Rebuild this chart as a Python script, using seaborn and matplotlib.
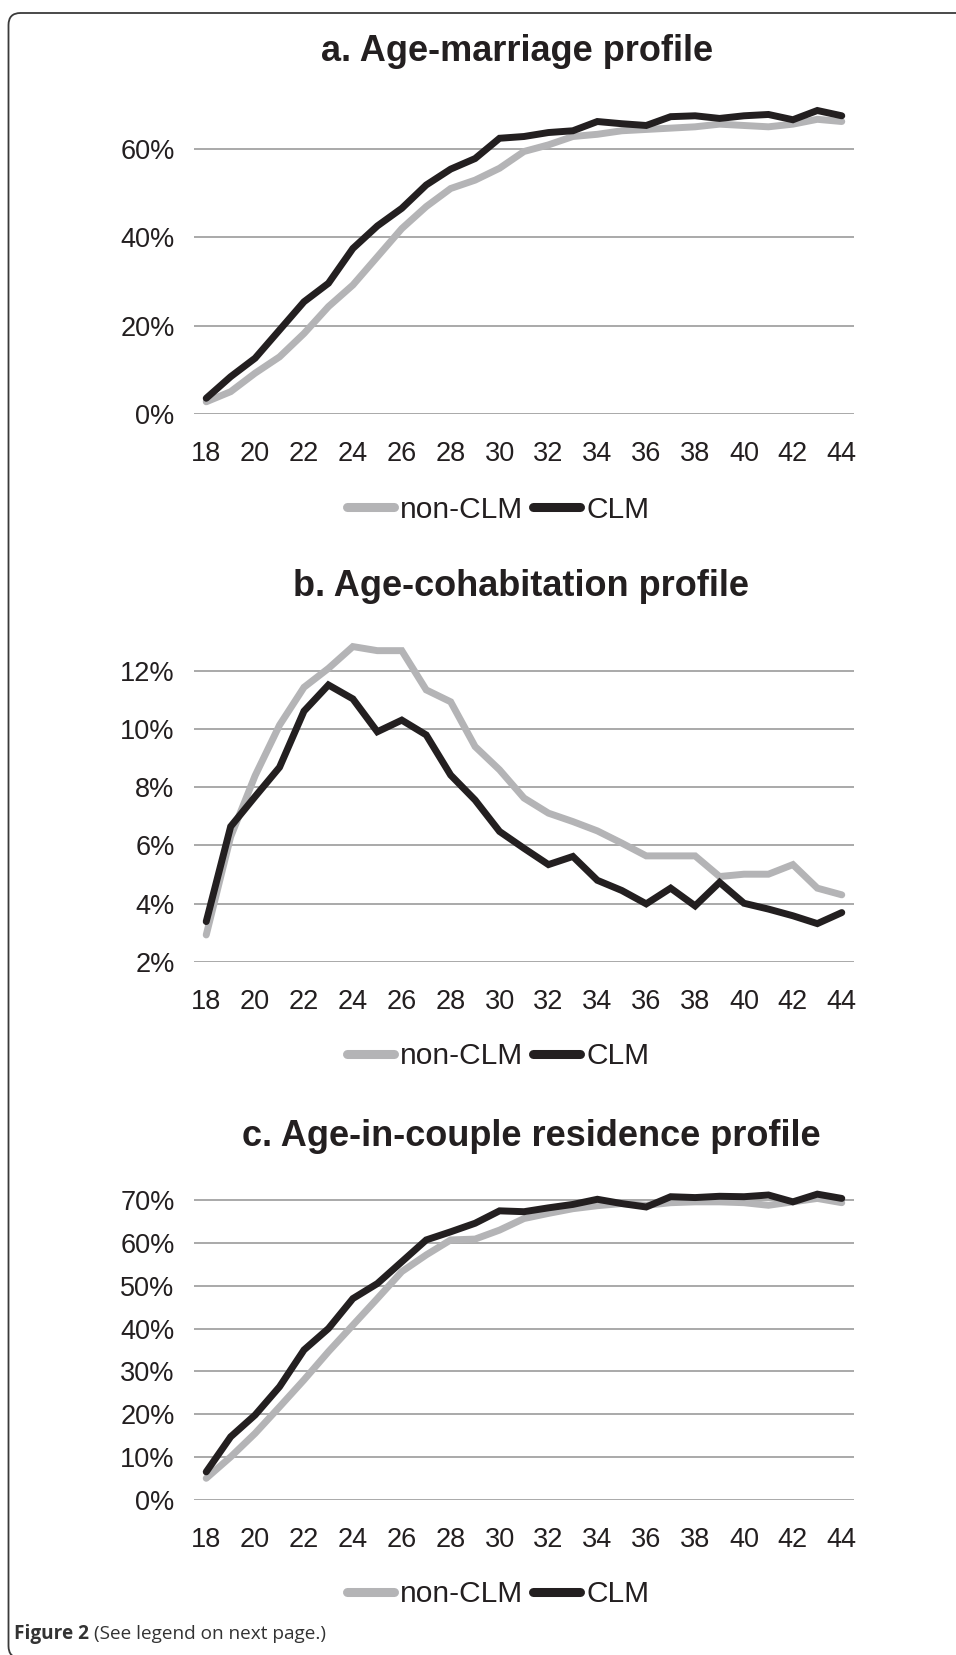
import matplotlib
matplotlib.use('Agg')
import matplotlib.pyplot as plt
import matplotlib.transforms as mtransforms
from matplotlib.patches import FancyBboxPatch
from matplotlib.ticker import FuncFormatter
import seaborn as sns
import pandas as pd

# ages on the x axis
ages = list(range(18, 45))
groups = ['non-CLM', 'CLM']

# a. age-marriage profile (%)
marriage_non_clm = [2.7, 5.0, 9.2, 12.9, 18.2, 24.3, 29.2, 35.6, 42.0, 47.0, 51.1, 53.0, 55.7, 59.5,
                    61.0, 62.9, 63.4, 64.2, 64.5, 64.8, 65.1, 65.7, 65.4, 65.1, 65.7, 66.8, 66.3]
marriage_clm = [3.5, 8.4, 12.6, 19.0, 25.4, 29.6, 37.5, 42.6, 46.6, 51.9, 55.5, 57.9, 62.5, 62.9,
                63.8, 64.2, 66.3, 65.8, 65.4, 67.4, 67.6, 67.0, 67.6, 67.9, 66.7, 68.8, 67.6]

# b. age-cohabitation profile (%)
cohab_non_clm = [2.92, 6.3, 8.4, 10.14, 11.44, 12.09, 12.84, 12.70, 12.70, 11.35, 10.94, 9.40, 8.60, 7.63,
                 7.11, 6.82, 6.50, 6.08, 5.64, 5.64, 5.64, 4.93, 5.01, 5.01, 5.34, 4.53, 4.30]
cohab_clm = [3.38, 6.65, 7.68, 8.69, 10.62, 11.52, 11.04, 9.91, 10.31, 9.80, 8.42, 7.56, 6.48, 5.90,
             5.34, 5.62, 4.80, 4.45, 3.99, 4.53, 3.92, 4.73, 4.01, 3.81, 3.58, 3.31, 3.69]

# c. age-in-couple residence profile (%)
couple_non_clm = [5.0, 10.0, 15.5, 21.7, 28.0, 34.6, 40.8, 47.0, 53.3, 57.2, 60.7, 60.9, 63.0, 65.7,
                  66.9, 68.0, 68.7, 69.2, 68.8, 69.4, 69.6, 69.6, 69.4, 68.8, 69.6, 70.4, 69.4]
couple_clm = [6.5, 14.7, 19.8, 26.4, 35.0, 40.0, 47.0, 50.5, 55.6, 60.7, 62.6, 64.6, 67.5, 67.3,
              68.2, 69.0, 70.2, 69.2, 68.4, 70.8, 70.6, 70.9, 70.8, 71.2, 69.6, 71.4, 70.4]

titles = ['a. Age-marriage profile', 'b. Age-cohabitation profile', 'c. Age-in-couple residence profile']
y_ticks = [[0, 20, 40, 60], [2, 4, 6, 8, 10, 12], [0, 10, 20, 30, 40, 50, 60, 70]]
x_ticks = list(range(18, 45, 2))

GRAY = '#b4b4b6'
BLACK = '#231f20'
GRID = '#a3a3a3'
TEXT = '#231f20'


def make_frame(non_clm, clm):
    return pd.DataFrame({
        'age': ages * 2,
        'value': non_clm + clm,
        'group': [groups[0]] * len(ages) + [groups[1]] * len(ages),
    })


def draw_panel(ax, df, ticks, ylim):
    sns.lineplot(data=df, x='age', y='value', hue='group', hue_order=groups,
                 palette={groups[0]: GRAY, groups[1]: BLACK}, linewidth=5,
                 legend=False, ax=ax)
    for line in ax.lines:
        line.set_solid_capstyle('round')
        line.set_solid_joinstyle('miter')
        line.set_clip_on(False)
    ax.set_xlim(17.5, 44.5)
    ax.set_ylim(*ylim)
    ax.set_xticks(x_ticks)
    ax.set_yticks(ticks)
    ax.yaxis.set_major_formatter(FuncFormatter(lambda v, p: f'{v:.0f}%'))
    ax.set_xlabel('')
    ax.set_ylabel('')
    ax.grid(axis='y', color=GRID, linewidth=1.3)
    ax.grid(axis='x', visible=False)
    ax.set_axisbelow(True)
    for spine in ax.spines.values():
        spine.set_visible(False)
    ax.tick_params(axis='x', length=0, pad=20, labelsize=19.5, labelcolor=TEXT)
    ax.tick_params(axis='y', length=0, pad=14, labelsize=19.5, labelcolor=TEXT)


def main():
    sns.set_theme(style='white')
    plt.rcParams['font.family'] = ['Liberation Sans', 'DejaVu Sans']

    fig = plt.figure(figsize=(9.56, 16.55), dpi=100)
    W, H = 956, 1655

    # axes boxes in pixels: left, bottom y (from top), width, height
    boxes = [(194, 413.7, 660, 317.3), (194, 961.7, 660, 334.3), (194, 1499.7, 660, 312.4)]
    ylims = [(0, 72), (2, 13.5), (0, 73)]
    title_pos = [(517, 51.5), (521, 587), (531, 1136.5)]
    legend_y = [509.7, 1056, 1594.4]
    data = [(marriage_non_clm, marriage_clm), (cohab_non_clm, cohab_clm), (couple_non_clm, couple_clm)]

    for i, (non_clm, clm) in enumerate(data):
        left, bottom, width, height = boxes[i]
        ax = fig.add_axes([left / W, 1 - bottom / H, width / W, height / H])
        draw_panel(ax, make_frame(non_clm, clm), y_ticks[i], ylims[i])
        tx, ty = title_pos[i]
        fig.text(tx / W, 1 - ty / H, titles[i], ha='center', va='center',
                 fontsize=26, fontweight='bold', color=TEXT)
        leg = fig.legend(ax.lines[:2], groups, loc='center', ncol=2,
                         bbox_to_anchor=(498 / W, 1 - legend_y[i] / H),
                         frameon=False, fontsize=21.5, handlelength=1.6,
                         handletextpad=0.2, columnspacing=0.3, labelcolor=TEXT)
        for h in leg.legend_handles:
            h.set_linewidth(6.5)
            h.set_solid_capstyle('round')

    # rounded outer frame
    frame = FancyBboxPatch((8.5, -3), 1000, 1645, boxstyle='round,pad=0,rounding_size=12',
                           transform=mtransforms.IdentityTransform(),
                           facecolor='none', edgecolor='#3a3a3a', linewidth=1.3)
    fig.add_artist(frame)

    # caption
    cap = fig.text(14 / W, 1 - 1634 / H, 'Figure 2', fontsize=13.7, fontweight='bold',
                   color='#333333', va='center', family=['Open Sans', 'DejaVu Sans'])
    renderer = fig.canvas.get_renderer()
    bb = cap.get_window_extent(renderer)
    fig.text((bb.x1 + 5) / W, 1 - 1634 / H, '(See legend on next page.)', fontsize=13.7,
             color='#333333', va='center', family=['Open Sans', 'DejaVu Sans'])

    fig.savefig('out.png', dpi=100, facecolor='white')


if __name__ == '__main__':
    main()
